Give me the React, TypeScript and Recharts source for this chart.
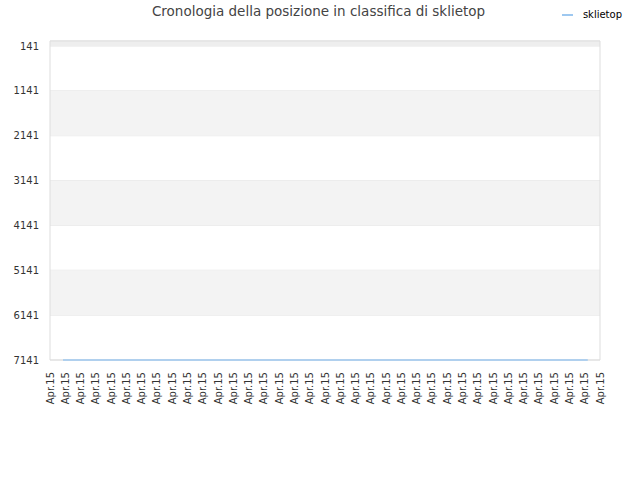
import { LineChart, Line, XAxis, YAxis, CartesianGrid, ReferenceArea, Legend } from 'recharts'

// x positions of the ticks along the time axis, and what they say
const tickPositions = [
  0, 1, 2, 3, 4, 5, 6, 7, 8, 9, 10, 11, 12, 13, 14, 15, 16, 17, 18,
  19, 20, 21, 22, 23, 24, 25, 26, 27, 28, 29, 30, 31, 32, 33, 34, 35, 36,
]
const tickLabels = [
  'Apr.15', 'Apr.15', 'Apr.15', 'Apr.15', 'Apr.15', 'Apr.15', 'Apr.15', 'Apr.15',
  'Apr.15', 'Apr.15', 'Apr.15', 'Apr.15', 'Apr.15', 'Apr.15', 'Apr.15', 'Apr.15',
  'Apr.15', 'Apr.15', 'Apr.15', 'Apr.15', 'Apr.15', 'Apr.15', 'Apr.15', 'Apr.15',
  'Apr.15', 'Apr.15', 'Apr.15', 'Apr.15', 'Apr.15', 'Apr.15', 'Apr.15', 'Apr.15',
  'Apr.15', 'Apr.15', 'Apr.15', 'Apr.15', 'Apr.15',
]

// series: sklietop
const positions = [0.85, 35.2]
const ranks = [7141, 7141]

const rankTicks = [141, 1141, 2141, 3141, 4141, 5141, 6141, 7141]
const rankDomain = [30, 7141]
const grayBands = [
  [1141, 2141],
  [3141, 4141],
  [5141, 6141],
]

const data = positions.map((t, i) => ({ t, rank: ranks[i] }))

const LINE_COLOR = '#9ec8f0'

function DateTick({ x, y, payload }: any) {
  const idx = tickPositions.indexOf(payload.value)
  return (
    <text
      x={x}
      y={y}
      transform={`rotate(-90, ${x}, ${y})`}
      textAnchor="end"
      dy="0.35em"
      fontSize={10}
      fill="#333"
      fontFamily="DejaVu Sans"
    >
      {tickLabels[idx]}
    </text>
  )
}

function LegendBox() {
  return (
    <div style={{ display: 'flex', alignItems: 'center', fontFamily: 'DejaVu Sans', fontSize: 10, lineHeight: '12px', color: '#000' }}>
      <span style={{ display: 'inline-block', width: 11, height: 2, background: LINE_COLOR, marginRight: 10 }} />
      sklietop
    </div>
  )
}

export default function App() {
  return (
    <div style={{ position: 'absolute', left: 0, top: 0, width: 640, height: 480, background: '#fff' }}>
      <div
        style={{
          position: 'absolute',
          top: 3,
          left: 0,
          width: 637,
          textAlign: 'center',
          fontFamily: 'DejaVu Sans',
          fontSize: 13.5,
          color: '#444',
        }}
      >
        Cronologia della posizione in classifica di sklietop
      </div>
      <LineChart width={640} height={480} data={data} margin={{ top: 29, right: 40, bottom: 60, left: 0 }}>
        <ReferenceArea y1={rankDomain[0]} y2={141} fill="#eeeeee" fillOpacity={1} stroke="none" />
        {grayBands.map(([a, b], i) => (
          <ReferenceArea key={`band-${i}`} y1={a} y2={b} fill="#f3f3f3" fillOpacity={1} stroke="none" />
        ))}
        <CartesianGrid vertical={false} stroke="#e4e4e4" />
        <ReferenceArea
          x1={tickPositions[0]}
          x2={tickPositions[tickPositions.length - 1]}
          y1={rankDomain[0]}
          y2={rankDomain[1]}
          fill="none"
          stroke="#dddddd"
        />
        <XAxis
          type="number"
          dataKey="t"
          domain={[tickPositions[0], tickPositions[tickPositions.length - 1]]}
          ticks={tickPositions}
          interval={0}
          height={60}
          axisLine={false}
          tickLine={false}
          tickSize={0}
          tick={<DateTick />}
          tickMargin={12}
        />
        <YAxis
          reversed
          type="number"
          domain={rankDomain}
          ticks={rankTicks}
          interval={0}
          width={50}
          axisLine={false}
          tickLine={false}
          tickSize={0}
          tickMargin={11}
          tick={{ fontSize: 10, fill: '#333', fontFamily: 'DejaVu Sans' }}
        />
        <Legend
          verticalAlign="top"
          align="right"
          height={12}
          wrapperStyle={{ top: 9, right: 18, left: 'auto', width: 'auto' }}
          content={<LegendBox />}
        />
        <Line
          type="linear"
          dataKey="rank"
          name="sklietop"
          stroke={LINE_COLOR}
          strokeWidth={1.5}
          dot={false}
          isAnimationActive={false}
        />
      </LineChart>
    </div>
  )
}
